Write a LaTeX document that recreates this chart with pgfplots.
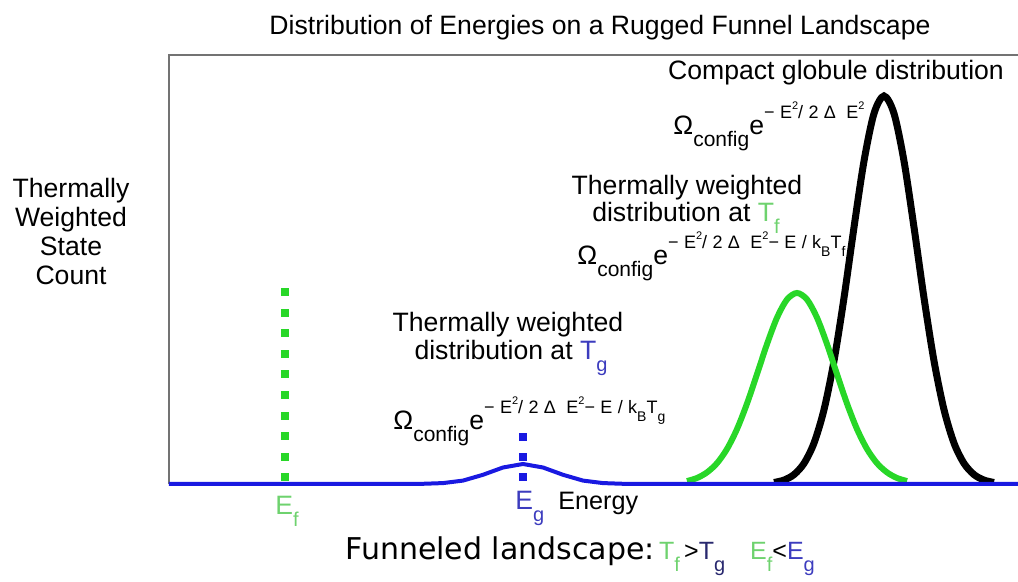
\documentclass[border=0pt]{standalone}
\usepackage{pgfplots}
\pgfplotsset{compat=1.18}
\usepackage{fontspec}
\setmainfont{Liberation Sans}
\newfontfamily\dejavu{DejaVu Sans}
\newfontfamily\supf[LetterSpace=30]{Liberation Sans}
\definecolor{cgreen}{RGB}{40,215,40}
\definecolor{cblue}{RGB}{25,25,225}
\definecolor{lgreen}{RGB}{110,210,110}
\definecolor{tblue}{RGB}{60,60,190}
\definecolor{navy}{RGB}{40,40,110}
\definecolor{axgray}{RGB}{115,115,115}
\newcommand{\ssq}{\raisebox{0.55em}{\fontsize{5.5}{6}\selectfont 2}}
\newcommand{\ssub}[1]{\raisebox{-0.4em}{\fontsize{7}{8}\selectfont #1}}
\newcommand{\tsub}[1]{\raisebox{-0.45em}{\fontsize{10}{11}\selectfont #1}}
\newcommand{\formula}[1]{Ω\raisebox{-6pt}{\fontsize{10.5}{12}\selectfont config}e\raisebox{8pt}{\supf\fontsize{9}{10}\selectfont #1}}
\tikzset{lbl/.style={font=\fontsize{13.3}{16}\selectfont, inner sep=0pt}}
\begin{document}
\begin{tikzpicture}
\path[use as bounding box] (0,0) rectangle (509pt,291pt);
\begin{axis}[at={(84.5pt,49pt)}, anchor=south west, scale only axis,
  width=424.5pt, height=214.5pt, xmin=169, xmax=1018, ymin=0, ymax=429,
  axis lines=none, clip=false]
\draw[axgray, line width=1pt] (axis cs:169,0) -- (axis cs:169,429) -- (axis cs:1018,429);
% black: compact globule
\addplot[black, line width=3.5pt, smooth] coordinates {
(774,1.5) (784,3.9) (794,9.4) (804,20.6) (814,40.9) (824,74.3)
(834,123.1) (844,186.1) (854,256.7) (864,322.9) (874,370.5) (884,388) (894,370.5)
(904,322.9) (914,256.7) (924,186.1) (934,123.1) (944,74.3) (954,40.9) (964,20.6)
(974,9.4) (984,3.9) (994,1.5)};
% green: at T_f
\addplot[cgreen, line width=3pt, smooth] coordinates {
(687,2.9) (697,6.0) (707,11.6) (717,20.8) (727,35.0) (737,54.9)
(747,80.4) (757,109.8) (767,139.9) (777,166.3) (787,184.5) (797,191) (807,184.5)
(817,166.3) (827,139.9) (837,109.8) (847,80.4) (857,54.9) (867,35.0) (877,20.8)
(887,11.6) (897,6.0) (907,2.9)};
% green dotted E_f
\addplot[only marks, mark=square*, mark size=1.7pt, color=cgreen] coordinates {
(285,7) (285,27) (285,48) (285,68) (285,89) (285,110) (285,130) (285,151) (285,171) (285,192)};
% blue dotted E_g
\addplot[only marks, mark=square*, mark size=1.7pt, color=cblue] coordinates {
(523,7) (523,27) (523,47)};
% blue: at T_g
\addplot[cblue, line width=2pt] coordinates {
(169,0) (403,0) (423,0.2) (443,0.9) (463,3.4) (483,9.2) (503,16.5) (523,20)
(543,16.5) (563,9.2) (583,3.4) (603,0.9) (623,0.2) (643,0) (1018,0)};
% texts
\node[lbl, anchor=base] at (axis cs:600,449) {Distribution of Energies on a Rugged Funnel Landscape};
\node[lbl, align=center, font=\fontsize{13.3}{14.5}\selectfont] at (axis cs:71,252) {Thermally\\Weighted\\State\\Count};
\node[lbl, anchor=base] at (axis cs:836,404) {Compact globule distribution};
\node[lbl, anchor=base west] at (axis cs:673,349) {\formula{−E\ssq/2Δ E\ssq}};
\node[lbl, anchor=base] at (axis cs:687,289) {Thermally weighted};
\node[lbl, anchor=base] at (axis cs:686,262) {distribution at \textcolor{lgreen}{T\tsub{f}}};
\node[lbl, anchor=base west] at (axis cs:577,219) {\formula{−E\ssq/2Δ E\ssq−E/k\ssub{B}T\ssub{f}}};
\node[lbl, anchor=base] at (axis cs:508,152) {Thermally weighted};
\node[lbl, anchor=base] at (axis cs:511,124) {distribution at \textcolor{tblue}{T\tsub{g}}};
\node[lbl, anchor=base west] at (axis cs:393,54) {\formula{−E\ssq/2Δ E\ssq−E/k\ssub{B}T\ssub{g}}};
\node[lbl, anchor=base west] at (axis cs:515,-26) {\textcolor{tblue}{E\tsub{g}}};
\node[lbl, anchor=base west, font=\fontsize{12.6}{14}\selectfont] at (axis cs:558,-26) {Energy};
\node[lbl, anchor=base west] at (axis cs:275,-31) {\textcolor{lgreen}{E\tsub{f}}};
\node[lbl, anchor=base west] at (axis cs:345,-76) {{\dejavu\fontsize{15}{18}\selectfont Funneled landscape:}\,{\fontsize{12.5}{14}\selectfont\textcolor{lgreen}{T\tsub{f}}\,>\textcolor{navy}{T\tsub{g}}\quad\textcolor{lgreen}{E\tsub{f}}<\textcolor{tblue}{E\tsub{g}}}};
\end{axis}
\end{tikzpicture}
\end{document}
